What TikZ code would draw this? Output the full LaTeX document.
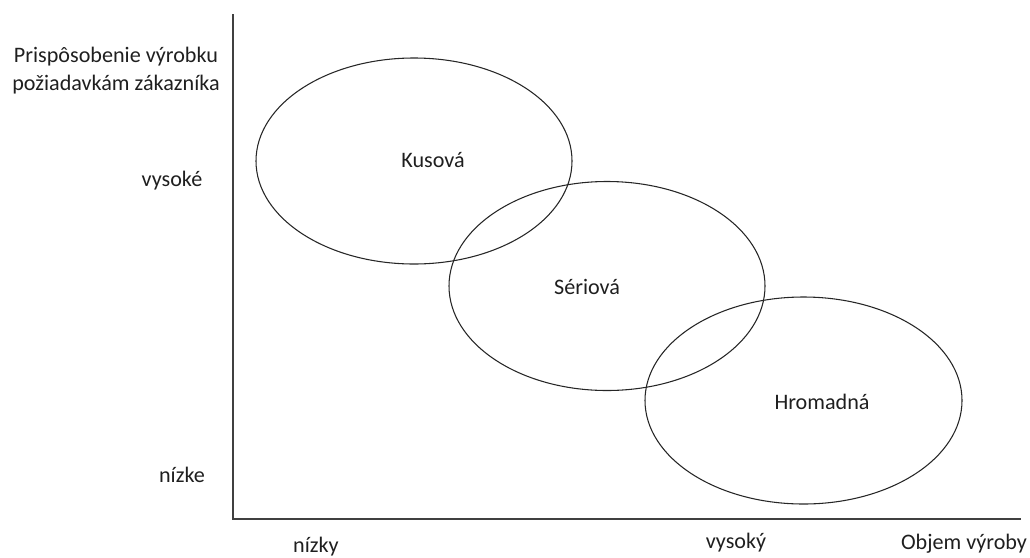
\documentclass[tikz,border=0pt]{standalone}
\usepackage{fontspec}
\setmainfont{Carlito}
\begin{document}
\begin{tikzpicture}[x=0.75pt,y=-0.75pt,
  lbl/.style={font=\fontsize{16.6}{21}\selectfont, text=black!88, inner sep=0pt},
  axis/.style={draw=black!75, line width=1.5pt},
  blob/.style={draw=black!85, line width=0.8pt}]
\useasboundingbox (0,0) rectangle (1030,557);
% axes
\coordinate (top) at (233,14);
\coordinate (origin) at (233,519);
\coordinate (right) at (1021,519);
\draw[axis] (top) -- (origin) -- (right);
% ellipses
\draw[blob] (414,161) ellipse [x radius=158, y radius=103];
\draw[blob] (607,286) ellipse [x radius=158, y radius=104.5];
\draw[blob] (803.5,400.5) ellipse [x radius=158.5, y radius=103.5];
% labels
\node[lbl] (kus) at (433,160) {Kusová};
\node[lbl] (ser) at (587,287) {Sériová};
\node[lbl] (hro) at (822,402) {Hromadná};
\node[lbl, align=center] (ylab) at (116,71) {Prispôsobenie výrobku\\požiadavkám zákazníka};
\node[lbl] (yhi) at (172,181) {vysoké};
\node[lbl] (ylo) at (182,475) {nízke};
\node[lbl] (xlo) at (316,547) {nízky};
\node[lbl] (xhi) at (736,543) {vysoký};
\node[lbl] (xlab) at (964,544) {Objem výroby};
\end{tikzpicture}
\end{document}
